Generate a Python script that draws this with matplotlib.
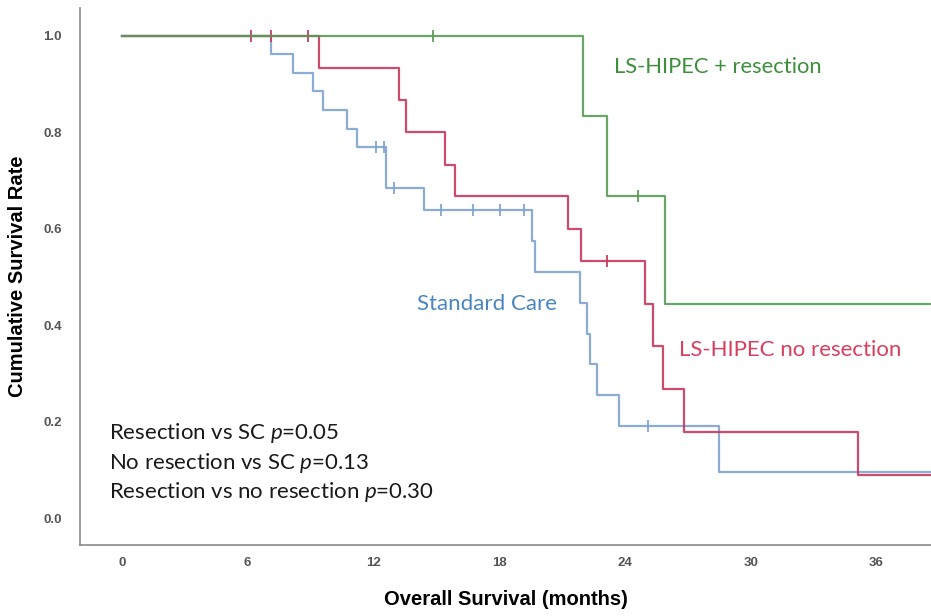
import numpy as np
import matplotlib
matplotlib.use("Agg")
from matplotlib import pyplot as plt

# Kaplan-Meier step data (months, survival)
green_t = [0, 22.0, 23.15, 25.9]
green_s = [1.0, 0.833, 0.667, 0.444]
green_cens_t = [14.85, 24.6]
green_cens_s = [1.0, 0.667]

red_t = [0, 9.4, 13.2, 13.55, 15.4, 15.9, 21.3, 21.9, 24.95, 25.35, 25.8, 26.8, 35.1]
red_s = [1.0, 0.933, 0.867, 0.8, 0.733, 0.667, 0.6, 0.533, 0.444, 0.356, 0.267, 0.178, 0.089]
red_cens_t = [6.15, 7.1, 8.9, 23.15]
red_cens_s = [1.0, 1.0, 1.0, 0.533]

blue_t = [0, 7.1, 8.15, 9.1, 9.6, 10.75, 11.2, 12.6, 14.4, 19.55, 19.7,
          21.85, 22.2, 22.35, 22.65, 23.7, 28.5]
blue_s = [1.0, 0.962, 0.923, 0.885, 0.846, 0.808, 0.769, 0.684, 0.638, 0.574, 0.510,
          0.446, 0.382, 0.319, 0.255, 0.191, 0.096]
blue_cens_t = [12.1, 12.5, 13.0, 15.2, 16.75, 18.05, 19.2, 25.1]
blue_cens_s = [0.769, 0.769, 0.684, 0.638, 0.638, 0.638, 0.638, 0.191]

x_ticks = [0, 6, 12, 18, 24, 30, 36]
y_ticks = [0.0, 0.2, 0.4, 0.6, 0.8, 1.0]

pvals = ["Resection vs SC $p$=0.05",
         "No resection vs SC $p$=0.13",
         "Resection vs no resection $p$=0.30"]

plt.rcParams['mathtext.fontset'] = 'custom'
plt.rcParams['mathtext.rm'] = 'Lato'
plt.rcParams['mathtext.it'] = 'Lato:italic'

fig = plt.figure(figsize=(9.31, 6.16), dpi=100)
ax = fig.add_axes([80 / 931, 1 - 545 / 616, 1 - 80 / 931, (545 - 8) / 616])

x_end = 40
def km(t, s, color, ct, cs):
    ax.step(t + [x_end], s + [s[-1]], where='post', color=color, lw=1.6, alpha=0.9)
    ax.plot(ct, cs, ls='none', marker='|', ms=8, mew=1.4, color=color, alpha=0.9)

km(blue_t, blue_s, '#7fa3d1', blue_cens_t, blue_cens_s)
km(red_t, red_s, '#c8385c', red_cens_t, red_cens_s)
km(green_t, green_s, '#5a9a55', green_cens_t, green_cens_s)

ax.set_xlim(-2.0, 38.6)
ax.set_ylim(-0.056, 1.058)
ax.set_xticks(x_ticks)
ax.set_yticks(y_ticks)
ax.set_yticklabels(['%.1f' % v for v in y_ticks])
ax.tick_params(length=0, labelsize=9.5, labelcolor='#555555', pad=13)
ax.tick_params(axis='x', pad=9)
for lab in ax.get_xticklabels() + ax.get_yticklabels():
    lab.set_family('Liberation Sans')
    lab.set_weight('bold')

for side in ['top', 'right']:
    ax.spines[side].set_visible(False)
for side in ['left', 'bottom']:
    ax.spines[side].set_color('#8a8a8a')
    ax.spines[side].set_linewidth(1.2)

ax.set_xlabel('Overall Survival (months)', family='Liberation Sans', weight='bold',
              fontsize=14.5, labelpad=15)
ax.set_ylabel('Cumulative Survival Rate', family='Liberation Sans', weight='bold',
              fontsize=14.5, labelpad=12)

ax.text(23.5, 0.935, 'LS-HIPEC + resection', family='Lato', fontsize=15.8,
        color='#3f8f3f', va='center')
ax.text(14.1, 0.443, 'Standard Care', family='Lato', fontsize=16,
        color='#4a86c2', va='center')
ax.text(26.6, 0.348, 'LS-HIPEC no resection', family='Lato', fontsize=16,
        color='#d8405e', va='center')

for i, txt in enumerate(pvals):
    ax.text(-0.6, 0.176 - i * 0.061, txt, family='Lato', fontsize=16,
            color='#1a1a1a', va='center')

fig.savefig('out.png', dpi=100)
